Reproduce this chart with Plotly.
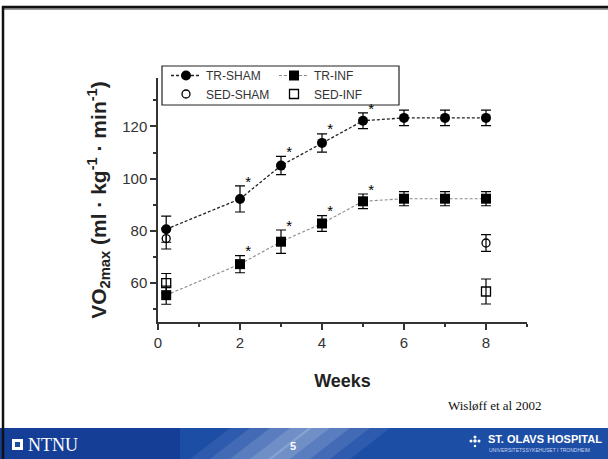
import plotly.graph_objects as go

# ---------------- data ----------------
weeks_tr = [0.2, 2, 3, 4, 5, 6, 7, 8]
tr_sham = [80.6, 92.2, 105.0, 113.7, 122.2, 123.3, 123.3, 123.3]
tr_sham_err = [5.0, 5.0, 3.5, 3.5, 3.0, 3.0, 3.0, 3.0]
tr_inf = [55.3, 67.2, 75.8, 82.8, 91.3, 92.3, 92.3, 92.3]
tr_inf_err = [3.5, 3.3, 4.5, 3.0, 2.8, 2.7, 2.7, 2.7]

weeks_sed = [0.2, 8]
sed_sham = [77.0, 75.3]
sed_sham_err = [4.0, 3.2]
sed_inf = [59.9, 56.7]
sed_inf_err = [3.7, 4.8]

signif_weeks = [2, 3, 4, 5]

x_ticks = [0, 2, 4, 6, 8]
y_ticks = [60, 80, 100, 120]

# ---------------- layout geometry ----------------
W, H = 608, 459
ML, MR, MT, MB = 158, 81, 78, 137
PW, PH = W - ML - MR, H - MT - MB


def px(x):
    return (x - ML) / PW


def py(y):
    return (H - MB - y) / PH


fig = go.Figure()

err_style = dict(type="data", thickness=1.2, width=5, color="black")

fig.add_trace(go.Scatter(
    x=weeks_tr, y=tr_sham, name="TR-SHAM", mode="lines+markers", legend="legend",
    line=dict(color="#222", width=1.3, dash="3px,2px"),
    marker=dict(symbol="circle", size=10, color="black"),
    error_y=dict(array=tr_sham_err, **err_style)))
fig.add_trace(go.Scatter(
    x=weeks_tr, y=tr_inf, name="TR-INF", mode="lines+markers", legend="legend",
    line=dict(color="#8a8a8a", width=1.1, dash="3px,2px"),
    marker=dict(symbol="square", size=10, color="black"),
    error_y=dict(array=tr_inf_err, **err_style)))
fig.add_trace(go.Scatter(
    x=weeks_sed, y=sed_sham, name="SED-SHAM", mode="markers", legend="legend2",
    marker=dict(symbol="circle-open", size=8, color="black", line=dict(width=1.3)),
    error_y=dict(array=sed_sham_err, **err_style)))
fig.add_trace(go.Scatter(
    x=weeks_sed, y=sed_inf, name="SED-INF", mode="markers", legend="legend2",
    marker=dict(symbol="square-open", size=9, color="black", line=dict(width=1.3)),
    error_y=dict(array=sed_inf_err, **err_style)))

# significance asterisks, placed from the data
ax, ay = [], []
for series, err in ((tr_sham, tr_sham_err), (tr_inf, tr_inf_err)):
    for w, v, e in zip(weeks_tr, series, err):
        if w in signif_weeks:
            ax.append(w + 0.2)
            ay.append(v + e + 1.2)
fig.add_trace(go.Scatter(
    x=ax, y=ay, mode="text", text=["*"] * len(ax), showlegend=False,
    textfont=dict(size=15, color="black", family="Liberation Sans"),
    hoverinfo="skip"))

axis_common = dict(
    showline=True, linecolor="#333", linewidth=1.5, ticks="outside",
    ticklen=6, tickwidth=1.5, tickcolor="#333", showgrid=False, zeroline=False,
    tickfont=dict(size=15, color="#333", family="Liberation Sans"),
)

fig.update_xaxes(range=[0, 9], tickvals=x_ticks,
                 minor=dict(dtick=1, tick0=0, ticks="outside", ticklen=3,
                            tickwidth=1.5, tickcolor="#333", showgrid=False),
                 title=dict(text="<b>Weeks</b>", standoff=25,
                            font=dict(size=18, color="#222", family="Liberation Sans")),
                 **axis_common)
fig.update_yaxes(range=[45, 138.6], tickvals=y_ticks,
                 minor=dict(dtick=10, tick0=0, ticks="outside", ticklen=3,
                            tickwidth=1.5, tickcolor="#333", showgrid=False),
                 title=dict(text="<b>VO<sub>2max</sub> (ml · kg<sup>-1</sup> · min<sup>-1</sup>)</b>",
                            standoff=10,
                            font=dict(size=21, color="#222", family="Liberation Sans")),
                 **axis_common)

shapes = []
# legend frame
shapes.append(dict(type="rect", xref="paper", yref="paper",
                   x0=px(162), x1=px(399), y0=py(105), y1=py(66),
                   fillcolor="white", line=dict(color="#222", width=1.2), layer="below"))
# footer band
shapes.append(dict(type="rect", xref="paper", yref="paper",
                   x0=px(0), x1=px(W), y0=py(H), y1=py(428),
                   fillcolor="#1d4ea6", line=dict(width=0), layer="above"))
shapes.append(dict(type="rect", xref="paper", yref="paper",
                   x0=px(0), x1=px(180), y0=py(H), y1=py(428),
                   fillcolor="rgba(10,40,130,0.4)", line=dict(width=0), layer="above"))
# light diagonal streak
for (a, b, op) in ((190, 390, 0.08), (210, 370, 0.1), (230, 350, 0.12),
                   (250, 330, 0.14), (268, 312, 0.16)):
    path = (f"M {px(a)},{py(H)} L {px(b - 40)},{py(H)} "
            f"L {px(b)},{py(428)} L {px(a + 40)},{py(428)} Z")
    shapes.append(dict(type="path", xref="paper", yref="paper", path=path,
                       fillcolor=f"rgba(255,255,255,{op})", line=dict(width=0),
                       layer="above"))
# slide frame
shapes.append(dict(type="line", xref="paper", yref="paper",
                   x0=px(2), x1=px(W), y0=py(9), y1=py(9),
                   line=dict(color="#999", width=2), layer="above"))
shapes.append(dict(type="line", xref="paper", yref="paper",
                   x0=px(2), x1=px(W), y0=py(7), y1=py(7),
                   line=dict(color="#111", width=2.5), layer="above"))
shapes.append(dict(type="line", xref="paper", yref="paper",
                   x0=px(3), x1=px(3), y0=py(6), y1=py(H),
                   line=dict(color="#111", width=2.5), layer="above"))
# NTNU logo square
shapes.append(dict(type="rect", xref="paper", yref="paper",
                   x0=px(12), x1=px(23), y0=py(450), y1=py(439),
                   fillcolor="white", line=dict(width=0), layer="above"))
shapes.append(dict(type="rect", xref="paper", yref="paper",
                   x0=px(15), x1=px(20), y0=py(447), y1=py(442),
                   fillcolor="#1d4ea6", line=dict(width=0), layer="above"))
# St. Olavs dots
for (dx, dy, r) in ((475, 437, 1.5), (471, 441, 1.5), (475, 441, 1.8), (479, 441, 1.5), (475, 446, 1.2)):
    shapes.append(dict(type="circle", xref="paper", yref="paper",
                       x0=px(dx - r), x1=px(dx + r), y0=py(dy + r), y1=py(dy - r),
                       fillcolor="white", line=dict(width=0), layer="above"))

annotations = [
    dict(text="Wisløff et al 2002", xref="paper", yref="paper", x=px(494), y=py(405),
         xanchor="center", yanchor="middle",
         showarrow=False, font=dict(family="Liberation Serif", size=13, color="#111")),
    dict(text="NTNU", xref="paper", yref="paper", x=px(26), y=py(444.5),
         xanchor="left", yanchor="middle",
         showarrow=False, font=dict(family="Liberation Serif", size=18, color="white")),
    dict(text="<b>5</b>", xref="paper", yref="paper", x=px(293), y=py(446),
         xanchor="center", yanchor="middle",
         showarrow=False, font=dict(family="Liberation Sans", size=11, color="white")),
    dict(text="<b>ST. OLAVS HOSPITAL</b>", xref="paper", yref="paper", x=px(486), y=py(439),
         xanchor="left", yanchor="middle", showarrow=False,
         font=dict(family="Liberation Sans", size=11, color="white")),
    dict(text="UNIVERSITETSSYKEHUSET I TRONDHEIM", xref="paper", yref="paper", x=px(487),
         y=py(450), xanchor="left", yanchor="middle", showarrow=False,
         font=dict(family="Liberation Sans", size=5, color="#c8d4f0")),
]

leg_common = dict(orientation="h", xanchor="left", yanchor="middle",
                  borderwidth=0, bgcolor="rgba(0,0,0,0)",
                  entrywidth=63, entrywidthmode="pixels",
                  font=dict(size=12, color="#333", family="Liberation Sans"))

fig.update_layout(
    width=W, height=H,
    margin=dict(l=ML, r=MR, t=MT, b=MB),
    paper_bgcolor="white", plot_bgcolor="white",
    shapes=shapes, annotations=annotations,
    legend=dict(x=px(166), y=py(75.5), **leg_common),
    legend2=dict(x=px(166), y=py(94), **leg_common),
    showlegend=True,
)

fig.write_html("out.html", config={"displayModeBar": False},
               post_script="document.body.style.margin='0';")
with open("out.html", encoding="utf-8") as f:
    html = f.read()
html = html.replace("<body>", '<body style="margin:0;overflow:hidden">', 1)
with open("out.html", "w", encoding="utf-8") as f:
    f.write(html)
